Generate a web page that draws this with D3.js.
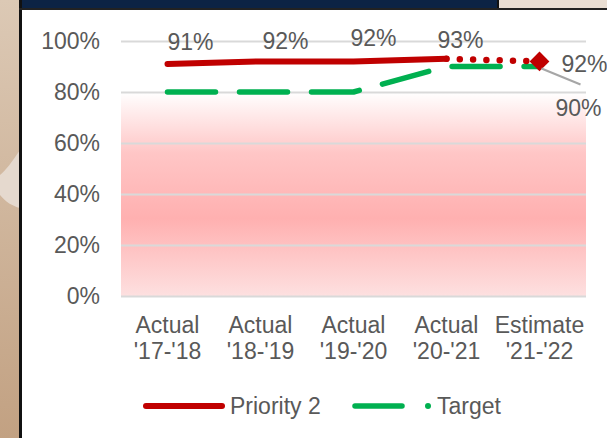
<!DOCTYPE html>
<html>
<head>
<meta charset="utf-8">
<script src="https://cdn.jsdelivr.net/npm/d3@7"></script>
<style>
  html, body { margin: 0; padding: 0; background: #fff; }
  svg { display: block; font-family: Arial, "Liberation Sans", sans-serif; }
</style>
</head>
<body>
<div id="chart"></div>
<script>
// chart data
var categories = ["Actual\n'17-'18", "Actual\n'18-'19", "Actual\n'19-'20", "Actual\n'20-'21", "Estimate\n'21-'22"];
var priority2 = [0.91, 0.92, 0.92, 0.93, 0.92];
var target = [0.80, 0.80, 0.80, 0.90, 0.90];
var yTicks = [0, 0.2, 0.4, 0.6, 0.8, 1.0];
var seriesNames = ["Priority 2", "Target"];

var W = 607, H = 438;
var red = "#c00000", green = "#00b050", grey = "#595959";
var fs = "23px";

var svg = d3.select("#chart").append("svg")
    .attr("width", W)
    .attr("height", H);

var defs = svg.append("defs");

// tan strip on the left
var tan = defs.append("linearGradient").attr("id", "tan")
    .attr("x1", 0).attr("y1", 0).attr("x2", 0).attr("y2", 1);
tan.append("stop").attr("offset", "0%").attr("stop-color", "#dcc9b5");
tan.append("stop").attr("offset", "100%").attr("stop-color", "#c2a182");

// pink plot fill
var pink = defs.append("linearGradient").attr("id", "pink")
    .attr("x1", 0).attr("y1", 0).attr("x2", 0).attr("y2", 1);
pink.append("stop").attr("offset", "0%").attr("stop-color", "#ffffff");
pink.append("stop").attr("offset", "30%").attr("stop-color", "#ffc6c6");
pink.append("stop").attr("offset", "62%").attr("stop-color", "#ffb0b0");
pink.append("stop").attr("offset", "100%").attr("stop-color", "#fde0e0");

svg.append("rect").attr("x", 0).attr("y", 0).attr("width", 20).attr("height", H)
    .attr("fill", "url(#tan)");
svg.append("path")
    .attr("d", "M20,150 C12,162 6,170 0,175 L0,195 C6,202 12,206 20,208 Z")
    .attr("fill", "#e5d9ce");
svg.append("rect").attr("x", 19).attr("y", 0).attr("width", 3).attr("height", H)
    .attr("fill", "#111");

// header strip
svg.append("rect").attr("x", 22).attr("y", 0).attr("width", 475).attr("height", 8)
    .attr("fill", "#0c2344");
svg.append("rect").attr("x", 499).attr("y", 0).attr("width", 108).attr("height", 8)
    .attr("fill", "#e9ded3");
svg.append("rect").attr("x", 497).attr("y", 0).attr("width", 2).attr("height", 9)
    .attr("fill", "#111");
svg.append("rect").attr("x", 19).attr("y", 8).attr("width", W - 19).attr("height", 2)
    .attr("fill", "#222");

// scales
var x = d3.scaleBand().domain(categories).range([121, 586]);
var y = d3.scaleLinear().domain([0, 1]).range([296, 41]);
var cx = function(i) { return x(categories[i]) + x.bandwidth() / 2; };

svg.append("rect")
    .attr("x", 121).attr("y", y(0.8))
    .attr("width", 465).attr("height", y(0) - y(0.8))
    .attr("fill", "url(#pink)");

// y axis + gridlines
var yAxis = d3.axisLeft(y).tickValues(yTicks)
    .tickFormat(d3.format(".0%"))
    .tickSize(-465).tickPadding(21);
var gy = svg.append("g").attr("transform", "translate(121,0)").call(yAxis);
gy.select(".domain").remove();
gy.selectAll("line").attr("stroke", "#d9d9d9").attr("stroke-width", 2);
gy.selectAll("text").attr("fill", grey).style("font-size", fs);

// x axis labels (two lines)
var gx = svg.append("g").attr("transform", "translate(0,296)")
    .call(d3.axisBottom(x).tickSize(0).tickFormat(""));
gx.select(".domain").remove();
gx.selectAll(".tick").each(function(d) {
  var parts = d.split("\n");
  var t = d3.select(this).append("text")
      .attr("fill", grey).attr("text-anchor", "middle")
      .style("font-size", fs);
  parts.forEach(function(p, k) {
    t.append("tspan").attr("x", 0).attr("y", 37 + k * 26).text(p);
  });
});

// target line (long dash)
var straight = d3.line()
    .x(function(d) { return cx(d.i); })
    .y(function(d) { return y(d.v); });

var tg = target.map(function(v, i) { return { i: i, v: v }; });
svg.append("path")
    .datum(tg)
    .attr("d", straight)
    .attr("fill", "none").attr("stroke", green).attr("stroke-width", 5.5)
    .attr("stroke-linecap", "round").attr("stroke-linejoin", "round")
    .attr("stroke-dasharray", "48,24");

// priority 2: actuals solid, estimate dotted
var p2 = priority2.map(function(v, i) { return { i: i, v: v }; });
svg.append("path")
    .datum(p2.slice(0, 4))
    .attr("d", straight)
    .attr("fill", "none").attr("stroke", red).attr("stroke-width", 6)
    .attr("stroke-linecap", "round").attr("stroke-linejoin", "round");
svg.append("path")
    .datum(p2.slice(3))
    .attr("d", straight)
    .attr("fill", "none").attr("stroke", red).attr("stroke-width", 6.5)
    .attr("stroke-linecap", "round")
    .attr("stroke-dasharray", "0,13.3")
    .attr("stroke-dashoffset", -13.3);

// diamond marker on estimate
svg.append("path")
    .attr("d", d3.symbol().type(d3.symbolDiamond2).size(250))
    .attr("transform", "translate(" + cx(4) + "," + y(priority2[4]) + ")")
    .attr("fill", red);

// data labels
var fmt = d3.format(".0%");
var labelOffsets = [[23, -22], [25, -20], [20, -23], [14, -19], [45, 3]];
svg.selectAll(".p2lab").data(priority2).enter().append("text")
    .attr("class", "p2lab")
    .attr("x", function(d, i) { return cx(i) + labelOffsets[i][0]; })
    .attr("y", function(d, i) { return y(d) + labelOffsets[i][1]; })
    .attr("dy", "0.35em")
    .attr("text-anchor", "middle")
    .attr("fill", grey).style("font-size", fs)
    .text(fmt);

// target label for the estimate, with leader line
svg.append("line")
    .attr("x1", cx(4) + 2).attr("y1", y(target[4]) + 2)
    .attr("x2", cx(4) + 41).attr("y2", y(target[4]) + 18)
    .attr("stroke", "#a6a6a6").attr("stroke-width", 2);
svg.append("text")
    .attr("x", cx(4) + 39).attr("y", y(target[4]) + 41)
    .attr("dy", "0.35em").attr("text-anchor", "middle")
    .attr("fill", grey).style("font-size", fs)
    .text(fmt(target[4]));

// legend
var lg = svg.append("g").attr("transform", "translate(0,406)");
lg.append("line").attr("x1", 146).attr("x2", 222).attr("y1", 0).attr("y2", 0)
    .attr("stroke", red).attr("stroke-width", 6).attr("stroke-linecap", "round");
lg.append("text").attr("x", 230).attr("dy", "0.35em")
    .attr("fill", grey).style("font-size", fs).text(seriesNames[0]);
lg.append("line").attr("x1", 355).attr("x2", 402).attr("y1", 0).attr("y2", 0)
    .attr("stroke", green).attr("stroke-width", 5.5).attr("stroke-linecap", "round");
lg.append("circle").attr("cx", 428).attr("cy", 0).attr("r", 3).attr("fill", green);
lg.append("text").attr("x", 437).attr("dy", "0.35em")
    .attr("fill", grey).style("font-size", fs).text(seriesNames[1]);
</script>
</body>
</html>
